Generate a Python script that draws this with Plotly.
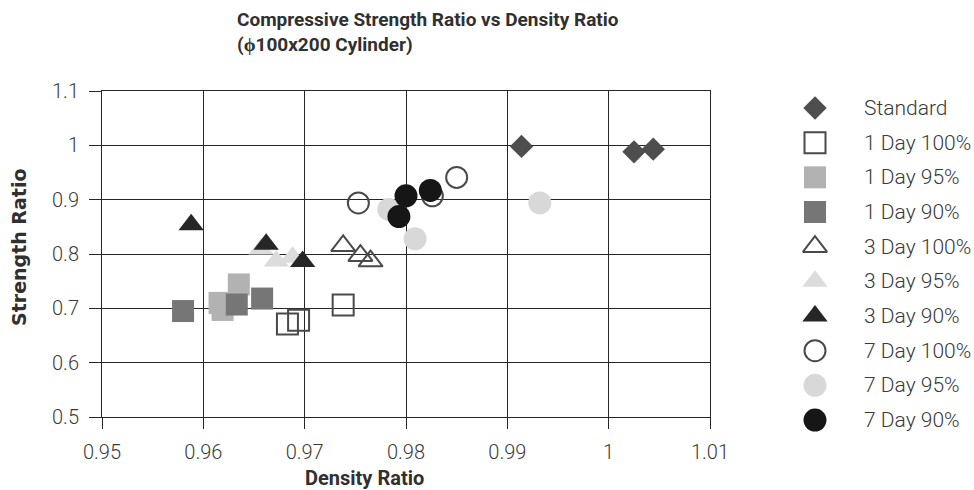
import plotly.graph_objects as go

# ---------------- data ----------------
series_names = ["Standard", "1 Day 100%", "1 Day 95%", "1 Day 90%",
                "3 Day 100%", "3 Day 95%", "3 Day 90%",
                "7 Day 100%", "7 Day 95%", "7 Day 90%"]

standard_x = [0.9914, 1.0025, 1.0044]
standard_y = [0.998, 0.988, 0.993]

d1_100_x = [0.9683, 0.9694, 0.9738]
d1_100_y = [0.671, 0.678, 0.706]
d1_95_x = [0.9616, 0.9619, 0.9635]
d1_95_y = [0.710, 0.697, 0.744]
d1_90_x = [0.9580, 0.9633, 0.9658]
d1_90_y = [0.695, 0.707, 0.718]

d3_100_x = [0.9738, 0.9755, 0.9765]
d3_100_y = [0.815, 0.797, 0.787]
d3_95_x = [0.9657, 0.9672, 0.9688]
d3_95_y = [0.809, 0.787, 0.794]
d3_90_x = [0.9588, 0.9662, 0.9698]
d3_90_y = [0.854, 0.818, 0.786]

d7_100_x = [0.9753, 0.9826, 0.9850]
d7_100_y = [0.894, 0.907, 0.941]
d7_95_x = [0.9783, 0.9809, 0.9932]
d7_95_y = [0.882, 0.828, 0.894]
d7_90_x = [0.9800, 0.9793, 0.9824]
d7_90_y = [0.907, 0.869, 0.917]

x_tick_vals = [0.95, 0.96, 0.97, 0.98, 0.99, 1.00, 1.01]
x_tick_text = ["0.95", "0.96", "0.97", "0.98", "0.99", "1", "1.01"]
y_tick_vals = [0.5, 0.6, 0.7, 0.8, 0.9, 1.0, 1.1]
y_tick_text = ["0.5", "0.6", "0.7", "0.8", "0.9", "1", "1.1"]

title_line1 = "Compressive Strength Ratio vs Density Ratio"
title_line2 = "(\u03d5100x200 Cylinder)"
x_title = "Density Ratio"
y_title = "Strength Ratio"

# ---------------- styles ----------------
OPEN_COL = "#4a4a4a"
styles = [
    dict(symbol="diamond", size=18, color="#4e4e4e", lw=0),
    dict(symbol="square-open", size=21, color=OPEN_COL, lw=2),
    dict(symbol="square", size=22, color="#b2b2b2", lw=0),
    dict(symbol="square", size=22, color="#767676", lw=0),
    dict(symbol="triangle-up-open", size=21, color=OPEN_COL, lw=2),
    dict(symbol="triangle-up", size=22, color="#dcdcdc", lw=0),
    dict(symbol="triangle-up", size=22, color="#262626", lw=0),
    dict(symbol="circle-open", size=21, color=OPEN_COL, lw=2),
    dict(symbol="circle", size=23, color="#d8d8d8", lw=0),
    dict(symbol="circle", size=23, color="#161616", lw=0),
]
series_data = [
    (standard_x, standard_y), (d1_100_x, d1_100_y), (d1_95_x, d1_95_y),
    (d1_90_x, d1_90_y), (d3_100_x, d3_100_y), (d3_95_x, d3_95_y),
    (d3_90_x, d3_90_y), (d7_100_x, d7_100_y), (d7_95_x, d7_95_y),
    (d7_90_x, d7_90_y),
]

W, H = 974, 490
ML, MR, MT, MB = 102, 0, 80, 50
PW, PH = W - ML - MR, H - MT - MB
plot_left, plot_right, plot_top, plot_bottom = 102, 710, 91, 417

def px_x(p):
    return (p - ML) / PW

def px_y(p):
    return (H - MB - p) / PH

fig = go.Figure()

for name, (xs, ys), st in zip(series_names, series_data, styles):
    fig.add_trace(go.Scatter(
        x=xs, y=ys, mode="markers", name=name, showlegend=False,
        xaxis="x", yaxis="y",
        marker=dict(symbol=st["symbol"], size=st["size"], color=st["color"],
                    line=dict(width=st["lw"], color=st["color"])),
        hoverinfo="x+y+name",
    ))

# custom legend (large markers), drawn on a second, hidden subplot
leg_left = 795
row0, row_gap = 108, 34.67
for i, (name, st) in enumerate(zip(series_names, styles)):
    fig.add_trace(go.Scatter(
        x=[815 - leg_left], y=[i], mode="markers", showlegend=False,
        xaxis="x2", yaxis="y2", hoverinfo="skip",
        marker=dict(symbol=st["symbol"], size=st["size"],
                    color=st["color"], line=dict(width=st["lw"], color=st["color"])),
    ))
    fig.add_annotation(x=862 - leg_left, y=i, xref="x2", yref="y2", text=name,
                       showarrow=False, xanchor="left", yanchor="middle",
                       font=dict(family="Roboto", size=21, color="#3a3a3a", weight=300))

axis_common = dict(showgrid=True, gridcolor="#262626", gridwidth=1,
                   showline=True, linecolor="#262626", linewidth=1, mirror=True,
                   ticks="outside", tickcolor="#262626", zeroline=False,
                   tickfont=dict(family="Roboto", size=20, color="#3a3a3a", weight=300))

fig.update_layout(
    width=W, height=H, autosize=False,
    margin=dict(l=ML, r=MR, t=MT, b=MB, autoexpand=False),
    paper_bgcolor="white", plot_bgcolor="white",
    xaxis=dict(domain=[0, px_x(plot_right)], range=[0.95, 1.01],
               tickvals=x_tick_vals, ticktext=x_tick_text, ticklen=11,
               ticklabelstandoff=6, anchor="y", **axis_common),
    yaxis=dict(domain=[px_y(plot_bottom), px_y(plot_top)], range=[0.5, 1.1],
               tickvals=y_tick_vals, ticktext=y_tick_text, ticklen=12,
               ticklabelstandoff=6, anchor="x", **axis_common),
    xaxis2=dict(domain=[px_x(leg_left), 1], range=[0, W - leg_left],
                visible=False, anchor="y2", fixedrange=True),
    yaxis2=dict(domain=[0, 1], range=[(H - MB - row0) / row_gap, (MT - row0) / row_gap],
                visible=False, anchor="x2", fixedrange=True),
    showlegend=False,
)

# titles
title_font = dict(family="Roboto", size=19, color="#303030", weight=700)
fig.add_annotation(x=px_x(235), y=px_y(20), xref="paper", yref="paper",
                   text=title_line1, showarrow=False, xanchor="left", yanchor="middle",
                   font=title_font)
fig.add_annotation(x=px_x(235), y=px_y(45), xref="paper", yref="paper",
                   text=title_line2, showarrow=False, xanchor="left", yanchor="middle",
                   font=title_font)
fig.add_annotation(x=px_x(364), y=px_y(478), xref="paper", yref="paper",
                   text=x_title, showarrow=False, xanchor="center", yanchor="middle",
                   font=dict(family="Roboto", size=20, color="#303030", weight=700))
fig.add_annotation(x=px_x(19), y=px_y(248), xref="paper", yref="paper",
                   text=y_title, showarrow=False, xanchor="center", yanchor="middle",
                   textangle=-90,
                   font=dict(family="DejaVu Sans", size=19, color="#303030", weight=700))

fig.write_html("out.html", config={"responsive": False, "displayModeBar": False})
